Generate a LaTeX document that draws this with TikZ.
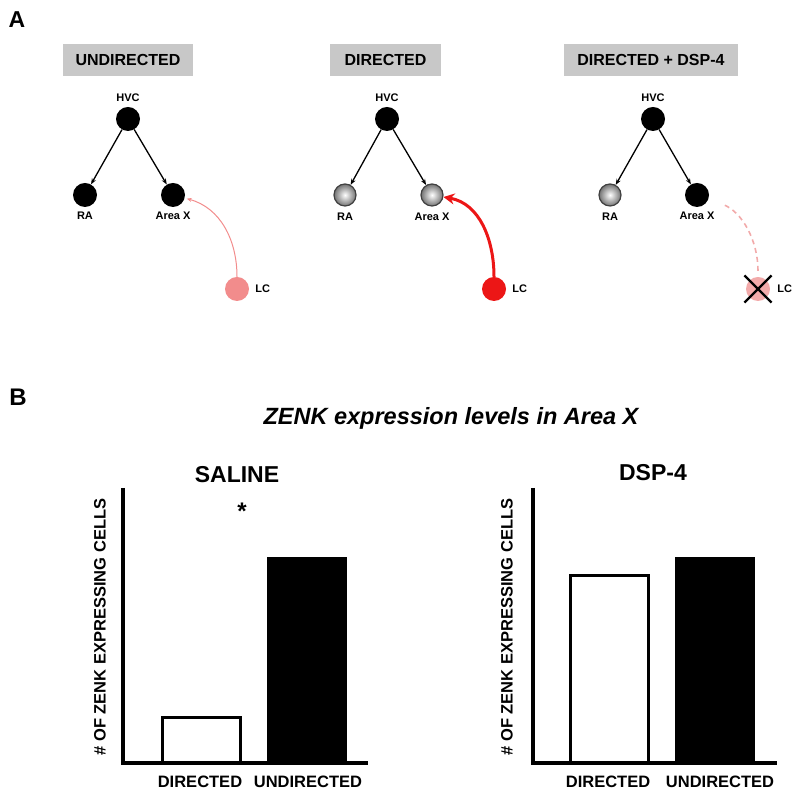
\documentclass[tikz,border=0pt]{standalone}
\usepackage{fontspec}
\setmainfont{Liberation Sans}
\usepackage{tikz}
\usetikzlibrary{arrows.meta,positioning,calc,shapes.misc}
\definecolor{boxgray}{RGB}{200,200,200}
\definecolor{lcred}{RGB}{236,22,22}
\definecolor{lcpink}{RGB}{242,140,140}
\definecolor{lcfade}{RGB}{242,170,170}
\newcommand{\fsz}[1]{\fontsize{#1}{#1}\selectfont\bfseries}

\begin{document}
\begin{tikzpicture}[x=1pt,y=1pt,
    cond/.style={fill=boxgray,minimum height=32pt,inner sep=0pt,font=\fsz{16}},
    neuron/.style={circle,fill=black,minimum size=24pt,inner sep=0pt},
    quiet/.style={circle,draw=black!75,line width=1.2pt,inner color=white,outer color=black!55,minimum size=22pt,inner sep=0pt},
    tag/.style={inner sep=0pt,font=\fsz{11}},
    proj/.style={line width=1.3pt,-{Stealth[length=6pt,width=4.5pt]}},
    axisline/.style={line width=3.5pt,line join=miter},
    barlabel/.style={inner sep=0pt,font=\fsz{16.5}}
  ]
    \useasboundingbox (0,0) rectangle (800,797);
    \node[inner sep=0pt,font=\fsz{23}] (pa) at (17,777) {A};
    \node[inner sep=0pt,font=\fsz{24}] (pb) at (18,400) {B};
    % undirected
    \node[cond,minimum width=130pt] (c1) at (128,737) {UNDIRECTED};
    \node[neuron] (hvc1) at (128,678) {};
    \node[neuron] (ra1) at (85,602) {};
    \node[neuron] (ax1) at (173,602) {};
    \node[circle,fill=lcpink,minimum size=24pt,inner sep=0pt] (lc1) at (237,508) {};
    \node[tag,above=5pt of hvc1] {HVC};
    \node[tag,below=5pt of ra1] {RA};
    \node[tag,below=5pt of ax1] {Area X};
    \node[tag,right=6pt of lc1] {LC};
    \draw[proj] (hvc1) -- (ra1);
    \draw[proj] (hvc1) -- (ax1);
    \draw[lcpink,line width=1pt,-{Stealth[length=5pt,width=4pt]},shorten >=2pt] (lc1) to[out=90,in=-15] (ax1);
    % directed
    \node[cond,minimum width=111pt] (c2) at (385.5,737) {DIRECTED};
    \node[neuron] (hvc2) at (387,678) {};
    \node[quiet] (ra2) at (345,602) {};
    \node[quiet] (ax2) at (432,602) {};
    \node[circle,fill=lcred,minimum size=24pt,inner sep=0pt] (lc2) at (494,508) {};
    \node[tag,above=5pt of hvc2] {HVC};
    \node[tag,below=6pt of ra2] {RA};
    \node[tag,below=6pt of ax2] {Area X};
    \node[tag,right=6pt of lc2] {LC};
    \draw[proj] (hvc2) -- (ra2);
    \draw[proj] (hvc2) -- (ax2);
    \draw[lcred,line width=3pt,-{Stealth[length=11pt,width=11pt]}] (lc2) to[out=90,in=-10] (ax2);
    % directed + dsp-4
    \node[cond,minimum width=174pt] (c3) at (651,737) {DIRECTED + DSP-4};
    \node[neuron] (hvc3) at (653,678) {};
    \node[quiet] (ra3) at (610,602) {};
    \node[neuron] (ax3) at (697,602) {};
    \node[circle,fill=lcfade,minimum size=24pt,inner sep=0pt] (lc3) at (758,508) {};
    \node[draw,cross out,line width=2.2pt,minimum size=25pt] at (lc3) {};
    \node[tag,above=5pt of hvc3] {HVC};
    \node[tag,below=6pt of ra3] {RA};
    \node[tag,below=5pt of ax3] {Area X};
    \node[tag,right=7pt of lc3] {LC};
    \draw[proj] (hvc3) -- (ra3);
    \draw[proj] (hvc3) -- (ax3);
    \draw[lcfade,line width=1.6pt,dash pattern=on 5pt off 4pt,shorten >=15pt,shorten <=6pt] (lc3) to[out=90,in=-20] (ax3);
    % charts
    \node[inner sep=0pt,font=\fontsize{23.5}{24}\selectfont\bfseries\itshape] (title) at (451,379) {ZENK expression levels in Area X};
    \node[inner sep=0pt,font=\fsz{23}] (sal) at (237,322) {SALINE};
    \node[inner sep=0pt,font=\fsz{24}] (star) at (242,286) {*};
    \draw[axisline] (123,309) -- (123,34) -- (368,34);
    \draw[line width=3pt,fill=white] (162,34) rectangle (240,79);
    \fill (267,34) rectangle (347,240);
    \node[barlabel,rotate=90] (yl1) at (100,170) {\# OF ZENK EXPRESSING CELLS};
    \node[barlabel] (d1) at (200,15) {DIRECTED};
    \node[barlabel] (u1) at (308,15) {UNDIRECTED};
    \node[inner sep=0pt,font=\fsz{23}] (dsp) at (653,324) {DSP-4};
    \draw[axisline] (533,309) -- (533,34) -- (777,34);
    \draw[line width=3pt,fill=white] (570,34) rectangle (648,221);
    \fill (675,34) rectangle (755,240);
    \node[barlabel,rotate=90] (yl2) at (507,170) {\# OF ZENK EXPRESSING CELLS};
    \node[barlabel] (d2) at (608,15) {DIRECTED};
    \node[barlabel] (u2) at (720,15) {UNDIRECTED};
  \end{tikzpicture}
\end{document}
